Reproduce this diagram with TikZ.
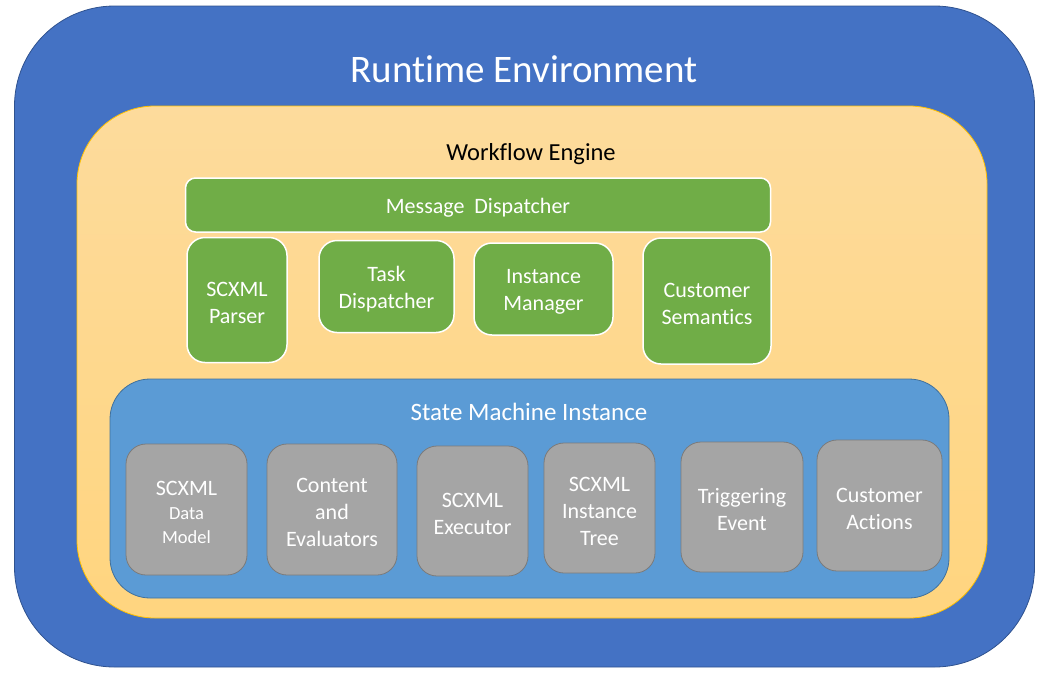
\documentclass[tikz,border=0pt]{standalone}
\usepackage{fontspec}
\setmainfont{Carlito}[Ligatures=NoCommon]
\usepackage{tikz}

\definecolor{envblue}{HTML}{4472C4}
\definecolor{envline}{HTML}{2F528F}
\definecolor{enginetop}{HTML}{FDDB9C}
\definecolor{enginebot}{HTML}{FFD57F}
\definecolor{engineline}{HTML}{FFC000}
\definecolor{smblue}{HTML}{5B9BD5}
\definecolor{smline}{HTML}{41719C}
\definecolor{partgreen}{HTML}{70AD47}
\definecolor{partgray}{HTML}{A5A5A5}
\definecolor{grayline}{HTML}{7B7B7B}

\begin{document}
\begin{tikzpicture}[
  x=1pt, y=-1pt,
  line join=round,
  every node/.style={inner sep=0pt, align=center},
  txt/.style={font=\fontsize{22}{27}\selectfont, text=white},
  boxtext/.style={label={[txt,yshift=-3pt]center:#1}},
  greenbox/.style={fill=partgreen, draw=white, line width=1.5pt, rounded corners=18pt},
  graybox/.style={fill=partgray, draw=grayline, line width=0.8pt, rounded corners=20pt}
]
  \useasboundingbox (0,0) rectangle (1048,675);

  % Runtime environment (outer frame)
  \node[fill=envblue, draw=envline, line width=0.8pt, rounded corners=100pt,
        minimum width=1020pt, minimum height=661pt] (env) at (524.5,336.5) {};
  \node[font=\fontsize{39}{45}\selectfont, text=white] (envtitle) at (524,69) {Runtime Environment};

  % Workflow engine
  \node[top color=enginetop, bottom color=enginebot, draw=engineline, line width=0.8pt,
        rounded corners=78pt, minimum width=910pt, minimum height=512pt] (engine) at (532,362) {};
  \node[font=\fontsize{24.5}{30}\selectfont] (enginetitle) at (531,154) {Workflow Engine};

  % Engine parts
  \node[greenbox, rounded corners=10pt, minimum width=585pt, minimum height=54pt,
        boxtext={Message~~Dispatcher}] (msgdisp) at (478,205) {};
  \node[greenbox, minimum width=100pt, minimum height=125pt, boxtext={SCXML\\Parser}]
    (parser) at (237,300) {};
  \node[greenbox, minimum width=135pt, minimum height=92pt, boxtext={Task\\Dispatcher}]
    (taskdisp) at (386.5,286.5) {};
  \node[greenbox, minimum width=139pt, minimum height=92pt, boxtext={Instance\\Manager}]
    (instmgr) at (543.5,289) {};
  \node[greenbox, minimum width=128pt, minimum height=126pt, boxtext={Customer\\Semantics}]
    (semantics) at (707,301) {};

  % State machine instance
  \node[fill=smblue, draw=smline, line width=0.8pt, rounded corners=40pt,
        minimum width=839pt, minimum height=219pt] (sm) at (529.5,488.5) {};
  \node[font=\fontsize{25}{30}\selectfont, text=white] (smtitle) at (529,412) {State Machine Instance};

  % Instance parts
  \node[graybox, minimum width=121pt, minimum height=131pt,
        boxtext={SCXML\\[-3pt]{\fontsize{18.5}{24}\selectfont Data}\\[-3pt]{\fontsize{18.5}{24}\selectfont Model}}]
    (datamodel) at (186.5,509.5) {};
  \node[graybox, minimum width=130pt, minimum height=131pt, boxtext={Content\\and\\Evaluators}]
    (evaluators) at (332,509.5) {};
  \node[graybox, minimum width=111pt, minimum height=130pt, boxtext={SCXML\\Executor}]
    (executor) at (472.5,511) {};
  \node[graybox, minimum width=111pt, minimum height=130pt, boxtext={SCXML\\Instance\\Tree}]
    (insttree) at (599.5,508) {};
  \node[graybox, minimum width=122pt, minimum height=130pt, boxtext={Triggering\\Event}]
    (trigger) at (742,507) {};
  \node[graybox, minimum width=125pt, minimum height=131pt, boxtext={Customer\\Actions}]
    (actions) at (879.5,505.5) {};
\end{tikzpicture}
\end{document}
